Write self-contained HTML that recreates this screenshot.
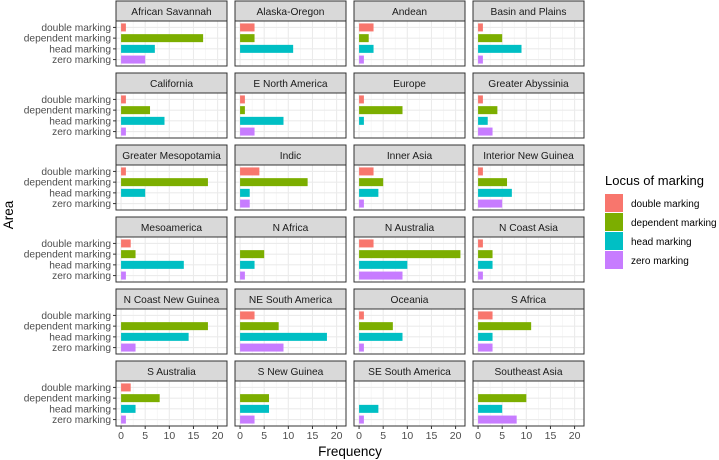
<!DOCTYPE html>
<html><head><meta charset="utf-8"><style>
body{margin:0;background:#fff}
svg{display:block;font-family:"Liberation Sans",Arial,sans-serif}
</style></head><body>
<svg id="chart" width="719" height="460" viewBox="0 0 719 460"></svg>
<script>
const areas=["African Savannah","Alaska-Oregon","Andean","Basin and Plains","California","E North America","Europe","Greater Abyssinia","Greater Mesopotamia","Indic","Inner Asia","Interior New Guinea","Mesoamerica","N Africa","N Australia","N Coast Asia","N Coast New Guinea","NE South America","Oceania","S Africa","S Australia","S New Guinea","SE South America","Southeast Asia"];
const categories=["double marking","dependent marking","head marking","zero marking"];
const doubleVals=[1,3,3,1,1,1,1,1,1,4,3,1,2,0,3,1,0,3,1,3,2,0,0,0];
const dependentVals=[17,3,2,5,6,1,9,4,18,14,5,6,3,5,21,3,18,8,7,11,8,6,0,10];
const headVals=[7,11,3,9,9,9,1,2,5,2,4,7,13,3,10,3,14,18,9,3,3,6,4,5];
const zeroVals=[5,0,1,1,1,3,0,3,0,2,1,5,1,1,9,1,3,9,1,3,1,3,1,8];
const xTicks=[0,5,10,15,20];
const colors=["#F8766D","#7CAE00","#00BFC4","#C77CFF"];
const series=[doubleVals,dependentVals,headVals,zeroVals];

const svg=document.getElementById('chart');
const NS='http://www.w3.org/2000/svg';
function mk(tag,attrs,parent){const e=document.createElementNS(NS,tag);for(const k in attrs)e.setAttribute(k,attrs[k]);(parent||svg).appendChild(e);return e;}
const colX=[116,235,354,473], pw=111, ph=45, stripH=20, rowY0=1, rowPitch=72;
const dMin=-1.05,dMax=21.95;
function xs(v,px){return px+(v-dMin)/(dMax-dMin)*pw;}
function ys(i,py){return py+(0.6+i)/4.2*ph;}

areas.forEach((name,a)=>{
  const c=a%4,r=Math.floor(a/4);
  const px=colX[c], sy=rowY0+r*rowPitch, py=sy+stripH;
  const g=mk('g',{});
  
  
  const strip=mk('rect',{x:px,y:sy,width:pw,height:stripH,fill:'#D9D9D9',stroke:'#333',"stroke-width":1},g);
  
  
  const st=mk('text',{x:px+pw/2,y:sy+14,"text-anchor":"middle","font-size":"10.2",fill:'#1A1A1A'},g);
  st.textContent=name;
  
  
  mk('rect',{x:px,y:py,width:pw,height:ph,fill:'#fff'},g);
  for(let t=2.5;t<=20;t+=5)mk('line',{x1:xs(t,px),x2:xs(t,px),y1:py,y2:py+ph,stroke:'#F2F2F2',"stroke-width":0.6},g);
  xTicks.forEach(t=>mk('line',{x1:xs(t,px),x2:xs(t,px),y1:py,y2:py+ph,stroke:'#EBEBEB',"stroke-width":1.1},g));
  categories.forEach((cat,i)=>mk('line',{x1:px,x2:px+pw,y1:ys(i,py),y2:ys(i,py),stroke:'#EBEBEB',"stroke-width":1.1},g));
  categories.forEach((cat,i)=>{
    const v=series[i][a]; if(!v)return;
    const b=mk('rect',{x:xs(0,px),y:ys(i,py)-4,width:xs(v,px)-xs(0,px),height:8,fill:colors[i]},g);
    
    
  });
  mk('rect',{x:px,y:py,width:pw,height:ph,fill:'none',stroke:'#333',"stroke-width":1},g);
  if(c===0){
    categories.forEach((cat,i)=>{
      mk('line',{x1:px-3,x2:px,y1:ys(i,py),y2:ys(i,py),stroke:'#333'},g);
      const t=mk('text',{x:px-5,y:ys(i,py)+3.6,"text-anchor":"end","font-size":"10.2",fill:'#4D4D4D'},g);
      t.textContent=cat;
      
      
    });
  }
  if(r===5){
    xTicks.forEach(tv=>{
      mk('line',{x1:xs(tv,px),x2:xs(tv,px),y1:py+ph,y2:py+ph+3,stroke:'#333'},g);
      const t=mk('text',{x:xs(tv,px),y:py+ph+13,"text-anchor":"middle","font-size":"10.5",fill:'#4D4D4D'},g);
      t.textContent=tv;
      
      
    });
  }
});
const xt=mk('text',{x:350,y:456,"text-anchor":"middle","font-size":"13.5",fill:'#000'});
xt.textContent='Frequency';


const yt=mk('text',{x:13,y:215,"text-anchor":"middle","font-size":"13.5",fill:'#000',transform:'rotate(-90 13 215)'});
yt.textContent='Area';


const lt=mk('text',{x:605,y:185,"font-size":"13",fill:'#000'});
lt.textContent='Locus of marking';


categories.forEach((cat,i)=>{
  const k=mk('rect',{x:605,y:194+i*19,width:18,height:18,fill:colors[i]});
  
  
  const t=mk('text',{x:631,y:207+i*19,"font-size":"10",fill:'#000'});
  t.textContent=cat;
  
  
});
</script>
</body></html>
